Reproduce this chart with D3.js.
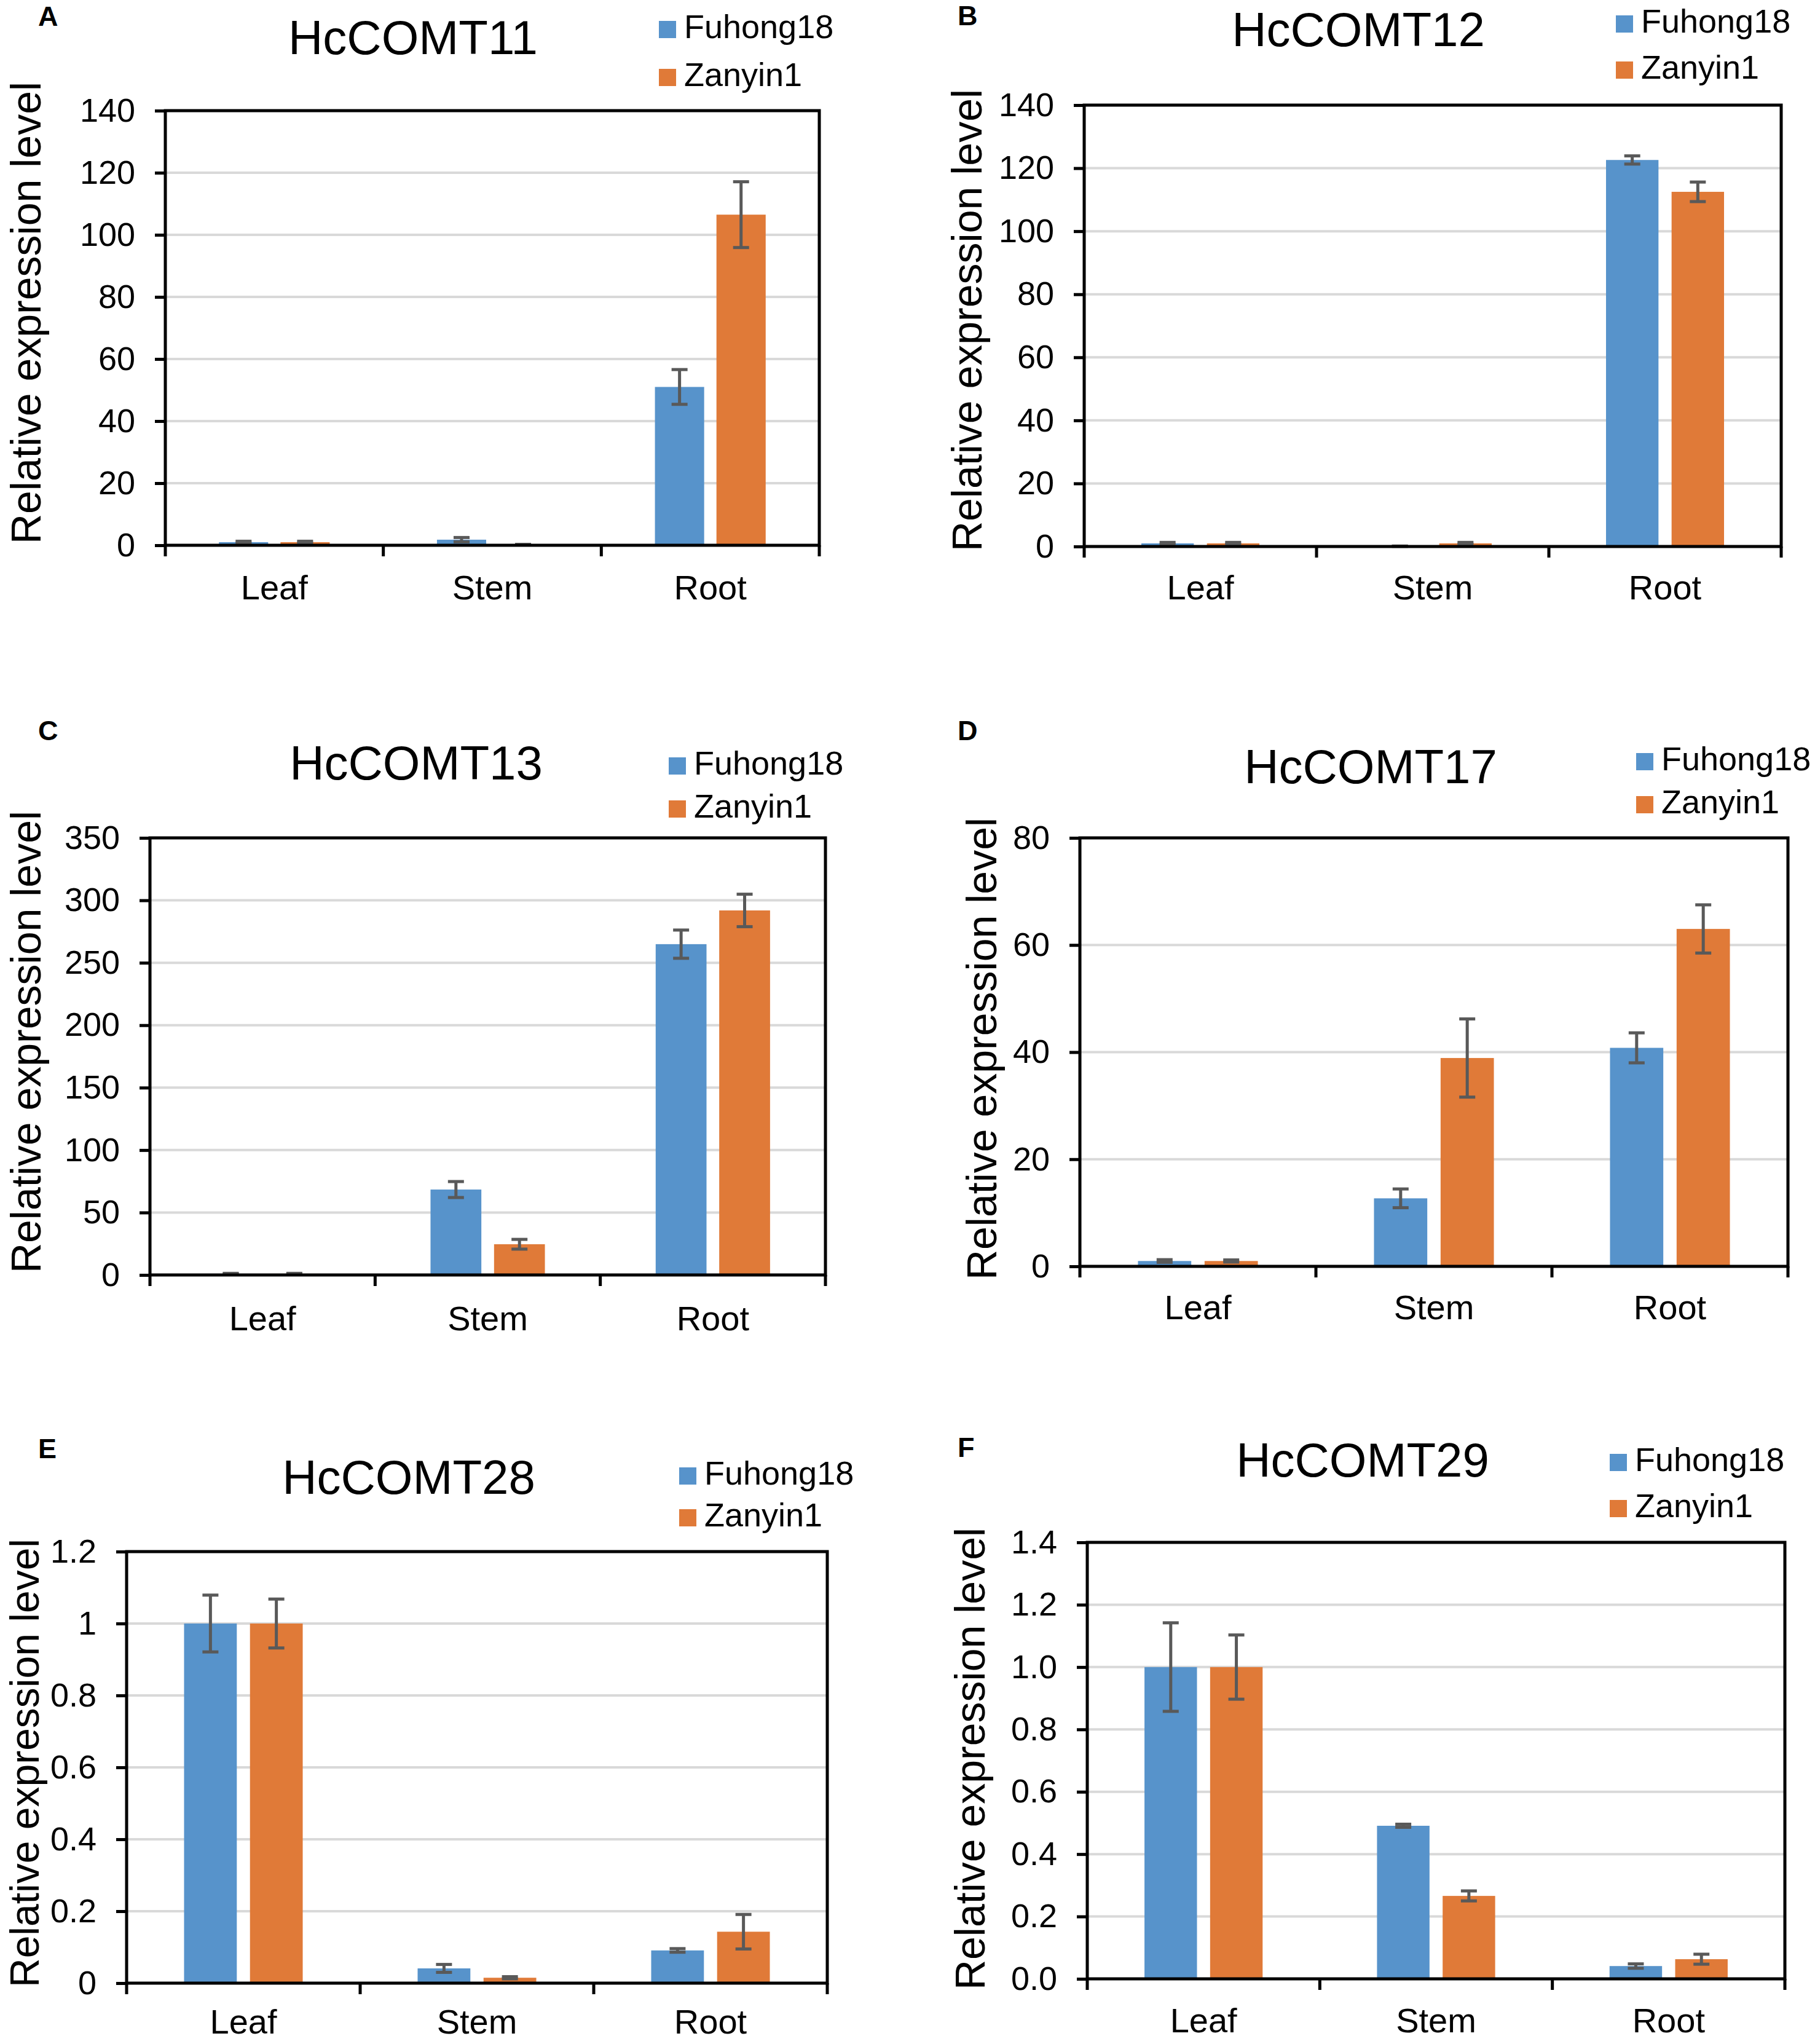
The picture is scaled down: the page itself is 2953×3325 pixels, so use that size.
<!DOCTYPE html>
<html>
<head>
<meta charset="utf-8">
<script src="https://cdn.jsdelivr.net/npm/d3@7"></script>
<style>
    body { margin: 0; background: #fff; }
    text { font-family: "Liberation Sans", Arial, sans-serif; fill: #000; }
</style>
</head>
<body>
<svg id="chart" width="2953" height="3325"></svg>
<script>
// Data
const categories = ["Leaf", "Stem", "Root"];
const seriesNames = ["Fuhong18", "Zanyin1"];
const genes = ["HcCOMT11", "HcCOMT12", "HcCOMT13", "HcCOMT17", "HcCOMT28", "HcCOMT29"];
const panelLetters = ["A", "B", "C", "D", "E", "F"];

// one row per gene, values for Leaf, Stem, Root
const fuhongMean = [
    [1.0, 1.8, 51.0],
    [1.0, 0.1, 122.6],
    [1.0, 68.4, 264.9],
    [1.0, 12.7, 40.8],
    [1.0, 0.041, 0.091],
    [1.0, 0.491, 0.041]
];
const fuhongErr = [
    [0.3, 0.7, 5.6],
    [0.3, 0.05, 1.3],
    [0.3, 6.4, 11.3],
    [0.25, 1.75, 2.8],
    [0.079, 0.011, 0.005],
    [0.142, 0.005, 0.007]
];
const zanyinMean = [
    [1.0, 0.2, 106.5],
    [1.0, 1.0, 112.5],
    [1.0, 24.6, 291.9],
    [1.0, 38.9, 63.0],
    [1.0, 0.015, 0.143],
    [1.0, 0.266, 0.063]
];
const zanyinErr = [
    [0.3, 0.1, 10.6],
    [0.3, 0.3, 3.1],
    [0.3, 3.9, 13.0],
    [0.2, 7.3, 4.5],
    [0.068, 0.003, 0.048],
    [0.103, 0.016, 0.016]
];
const yMax = [140, 140, 350, 80, 1.2, 1.4];
const yStep = [20, 20, 50, 20, 0.2, 0.2];
const yFormat = ["d", "d", "d", "d", "~g", ".1f"];

// Layout of each panel (pixels)
const layouts = [
    {left: 269, right: 1333, top: 180, bottom: 887, titleX: 672, titleY: 88, legX: 1072, legY: [62, 140], letX: 62, letY: 42, yTitleX: 66, yTitleY: 509, yTitleSize: 68, catY: 975},
    {left: 1764, right: 2898, top: 171, bottom: 889, titleX: 2210, titleY: 75, legX: 2629, legY: [53, 128], letX: 1558, letY: 41, yTitleX: 1597, yTitleY: 521, yTitleSize: 68, catY: 975},
    {left: 244, right: 1343, top: 1363, bottom: 2074, titleX: 677, titleY: 1268, legX: 1088, legY: [1260, 1330], letX: 62, letY: 1204, yTitleX: 66, yTitleY: 1695, yTitleSize: 68, catY: 2164},
    {left: 1757, right: 2909, top: 1363, bottom: 2060, titleX: 2230, titleY: 1274, legX: 2662, legY: [1253, 1323], letX: 1558, letY: 1204, yTitleX: 1621, yTitleY: 1706, yTitleSize: 68, catY: 2146},
    {left: 206, right: 1346, top: 2524, bottom: 3226, titleX: 665, titleY: 2430, legX: 1105, legY: [2415, 2483], letX: 62, letY: 2372, yTitleX: 63, yTitleY: 2868, yTitleSize: 66, catY: 3308},
    {left: 1769, right: 2904, top: 2509, bottom: 3219, titleX: 2217, titleY: 2402, legX: 2619, legY: [2393, 2468], letX: 1558, letY: 2370, yTitleX: 1602, yTitleY: 2861, yTitleSize: 68, catY: 3306}
];

const colors = ["#5793cb", "#e07a38"];
const gridColor = "#d9d9d9";
const errColor = "#595959";
const axisWidth = 5;

const svg = d3.select("#chart");

function drawPanel(i) {
    const L = layouts[i];
    const g = svg.append("g");

    const y = d3.scaleLinear().domain([0, yMax[i]]).range([L.bottom, L.top]);
    const x0 = d3.scaleBand().domain(categories).range([L.left, L.right]).padding(0);
    const bw = x0.bandwidth();
    const x1 = d3.scaleBand().domain(seriesNames)
        .range([0.246 * bw, 0.754 * bw]).paddingInner(0.2).paddingOuter(0);

    const ticks = d3.range(0, yMax[i] + yStep[i] / 2, yStep[i]);
    const fmt = d3.format(yFormat[i]);

    // Gridlines
    g.selectAll(".grid")
        .data(ticks.filter(t => t > 0))
        .enter().append("line")
        .attr("x1", L.left).attr("x2", L.right)
        .attr("y1", d => y(d)).attr("y2", d => y(d))
        .attr("stroke", gridColor).attr("stroke-width", 4);

    // Bars
    const rows = categories.map((c, k) => ({
        cat: c,
        vals: [
            {s: seriesNames[0], v: fuhongMean[i][k], e: fuhongErr[i][k], col: colors[0]},
            {s: seriesNames[1], v: zanyinMean[i][k], e: zanyinErr[i][k], col: colors[1]}
        ]
    }));

    const grp = g.selectAll(".cat")
        .data(rows)
        .enter().append("g")
        .attr("transform", d => `translate(${x0(d.cat)},0)`);

    grp.selectAll("rect")
        .data(d => d.vals)
        .enter().append("rect")
        .attr("x", d => x1(d.s))
        .attr("width", x1.bandwidth())
        .attr("y", d => y(d.v))
        .attr("height", d => y(0) - y(d.v))
        .attr("fill", d => d.col);

    // Error bars
    const capW = 13;
    const eb = grp.selectAll(".err")
        .data(d => d.vals)
        .enter().append("g")
        .attr("stroke", errColor)
        .attr("stroke-width", 5);
    eb.append("line")
        .attr("x1", d => x1(d.s) + x1.bandwidth() / 2)
        .attr("x2", d => x1(d.s) + x1.bandwidth() / 2)
        .attr("y1", d => y(d.v + d.e))
        .attr("y2", d => y(Math.max(0, d.v - d.e)));
    eb.append("line")
        .attr("x1", d => x1(d.s) + x1.bandwidth() / 2 - capW)
        .attr("x2", d => x1(d.s) + x1.bandwidth() / 2 + capW)
        .attr("y1", d => y(d.v + d.e)).attr("y2", d => y(d.v + d.e));
    eb.append("line")
        .attr("x1", d => x1(d.s) + x1.bandwidth() / 2 - capW)
        .attr("x2", d => x1(d.s) + x1.bandwidth() / 2 + capW)
        .attr("y1", d => y(Math.max(0, d.v - d.e))).attr("y2", d => y(Math.max(0, d.v - d.e)));

    // Y axis with ticks and labels
    const yAxis = d3.axisLeft(y).tickValues(ticks).tickFormat(fmt)
        .tickSize(17).tickPadding(32).tickSizeOuter(0);
    const ya = g.append("g").attr("transform", `translate(${L.left},0)`).call(yAxis);
    ya.select(".domain").remove();
    ya.selectAll(".tick line").attr("stroke", "#000").attr("stroke-width", axisWidth);
    ya.selectAll(".tick text")
        .style("font-size", "54px")
        .attr("fill", "#000");

    // Box around the plot
    g.append("rect")
        .attr("x", L.left).attr("y", L.top)
        .attr("width", L.right - L.left).attr("height", L.bottom - L.top)
        .attr("fill", "none").attr("stroke", "#000").attr("stroke-width", axisWidth);

    // X ticks at category boundaries
    const bounds = categories.map(c => x0(c)).concat([x0.range()[1]]);
    g.selectAll(".xtick")
        .data(bounds)
        .enter().append("line")
        .attr("x1", d => d).attr("x2", d => d)
        .attr("y1", L.bottom).attr("y2", L.bottom + 18)
        .attr("stroke", "#000").attr("stroke-width", axisWidth);

    // Category labels
    g.selectAll(".catlab")
        .data(categories)
        .enter().append("text")
        .attr("x", d => x0(d) + bw / 2)
        .attr("y", L.catY)
        .attr("text-anchor", "middle")
        .style("font-size", "56px")
        .text(d => d);

    // Y axis title
    g.append("text")
        .attr("transform", `translate(${L.yTitleX},${L.yTitleY}) rotate(-90)`)
        .attr("text-anchor", "middle")
        .style("font-size", L.yTitleSize + "px")
        .text("Relative expression level");

    // Chart title
    g.append("text")
        .attr("x", L.titleX).attr("y", L.titleY)
        .attr("text-anchor", "middle")
        .style("font-size", "78px")
        .text(genes[i]);

    // Panel letter
    g.append("text")
        .attr("x", L.letX).attr("y", L.letY)
        .style("font-size", "45px")
        .style("font-weight", "bold")
        .text(panelLetters[i]);

    // Legend
    seriesNames.forEach((s, k) => {
        g.append("rect")
            .attr("x", L.legX).attr("y", L.legY[k] - 28)
            .attr("width", 28).attr("height", 28)
            .attr("fill", colors[k]);
        g.append("text")
            .attr("x", L.legX + 41).attr("y", L.legY[k])
            .style("font-size", "54px")
            .text(s);
    });
}

genes.forEach((gname, i) => drawPanel(i));
</script>
</body>
</html>
